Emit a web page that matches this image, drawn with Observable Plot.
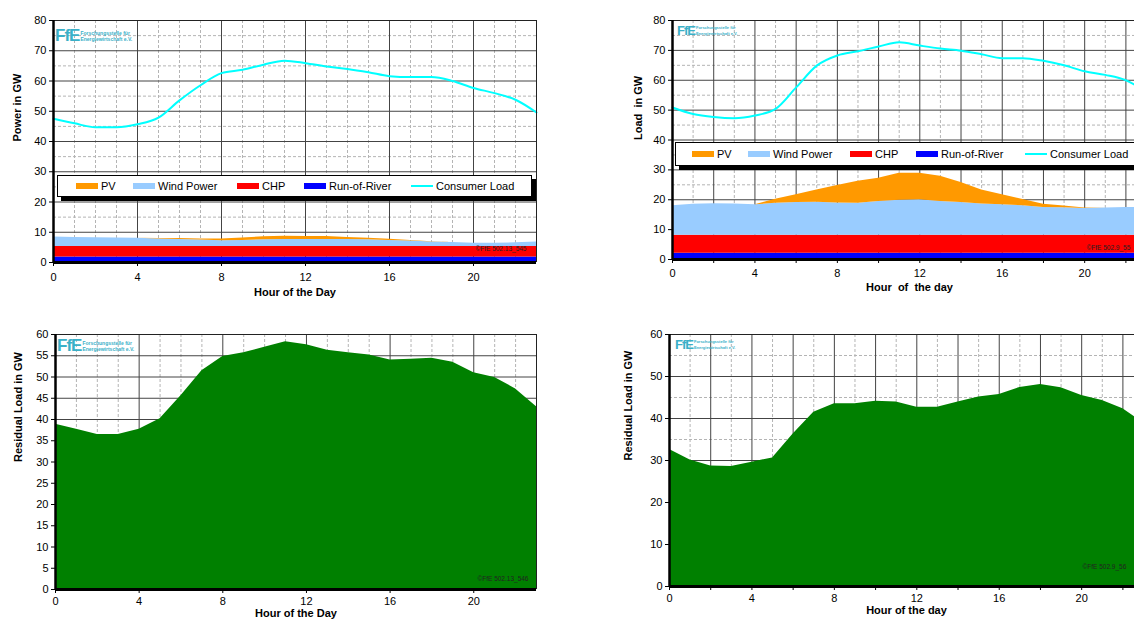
<!DOCTYPE html>
<html><head><meta charset="utf-8">
<script src="https://cdn.jsdelivr.net/npm/d3@7"></script>
<script src="https://cdn.jsdelivr.net/npm/@observablehq/plot@0.6"></script>
<style>
html,body{margin:0;padding:0;width:1134px;height:620px;overflow:hidden;background:#fff;font-family:"Liberation Sans",Arial,sans-serif;position:relative;}
.panel{position:absolute;}
.panel svg{overflow:visible;max-width:none !important;}
.panel svg text{white-space:pre;}
.legend{position:absolute;background:#fff;border:1px solid #000;box-shadow:4px 4px 0 #000;font-size:11px;color:#000;box-sizing:border-box;}
.legend .sw{position:absolute;height:6px;width:22px;}
.legend .ln{position:absolute;height:2px;width:22px;}
.legend .tx{position:absolute;line-height:12px;white-space:nowrap;}
.logo{position:absolute;color:#3ab0c8;white-space:nowrap;display:flex;align-items:center;}
.logo .big{font-weight:bold;letter-spacing:-1px;}
.logo .small{font-weight:bold;display:inline-block;margin-left:1px;}
</style>
</head><body>
<script>
// ---------- data ----------
const hours = [0,1,2,3,4,5,6,7,8,9,10,11,12,13,14,15,16,17,18,19,20,21,22,23];
const sources = ["PV","Wind Power","CHP","Run-of-River"];
const sourceColors = ["#ff9900","#99ccff","#ff0000","#0000ff"];
const stackOrder = ["Run-of-River","CHP","Wind Power","PV"];
const loadName = "Consumer Load";
const loadColor = "#00ffff";
const residualColor = "#008000";

// top-left panel (Power in GW)
const loadA = [47.5,46.0,44.7,44.7,45.7,47.9,53.6,58.6,62.6,63.7,65.4,66.7,65.9,64.8,64.0,62.9,61.6,61.3,61.3,60.0,57.7,56.0,53.8,49.6];
const rorA  = [1.8,1.8,1.8,1.8,1.8,1.8,1.8,1.8,1.8,1.8,1.8,1.8,1.8,1.8,1.8,1.8,1.8,1.8,1.8,1.8,1.8,1.8,1.8,1.8];
const chpA  = [3.5,3.5,3.5,3.5,3.5,3.5,3.5,3.5,3.5,3.5,3.5,3.5,3.5,3.5,3.5,3.5,3.5,3.5,3.5,3.5,3.5,3.5,3.5,3.5];
const windA = [3.1,3.0,2.9,2.8,2.7,2.5,2.3,2.1,1.9,2.0,2.2,2.3,2.3,2.3,2.3,2.2,2.0,1.8,1.5,1.3,1.1,1.1,1.2,1.5];
const pvA   = [0,0,0,0,0,0.1,0.3,0.4,0.6,0.8,1.0,1.1,1.0,1.0,0.7,0.5,0.4,0.2,0.1,0,0,0,0,0];

// top-right panel (Load in GW)
const loadB = [50.9,48.7,47.7,47.3,48.2,50.4,57.6,64.9,68.3,69.7,71.3,72.7,71.6,70.6,69.9,68.7,67.4,67.4,66.5,65.0,63.0,61.8,60.0,56.0];
const rorB  = [2.1,2.1,2.1,2.1,2.1,2.1,2.1,2.1,2.1,2.1,2.1,2.1,2.1,2.1,2.1,2.1,2.1,2.1,2.1,2.1,2.1,2.1,2.1,2.1];
const chpB  = [6.0,6.0,6.0,6.0,6.0,6.0,6.0,6.0,6.0,6.0,6.0,6.0,6.0,6.0,6.0,6.0,6.0,6.0,6.0,6.0,6.0,6.0,6.0,6.0];
const windB = [9.9,10.4,10.6,10.5,10.2,10.7,11.0,11.1,10.8,10.7,11.3,11.7,11.9,11.3,11.0,10.5,10.2,9.9,9.3,9.2,9.0,9.1,9.3,9.4];
const pvB   = [0,0,0,0,0,1.4,2.6,4.1,5.9,7.4,7.8,9.1,8.9,8.5,6.7,4.7,3.4,2.1,1.1,0.6,0.1,0,0,0];

// bottom panels (Residual Load in GW)
const residualC = [38.9,37.7,36.5,36.5,37.7,40.2,45.6,51.5,54.8,55.7,57.0,58.3,57.6,56.3,55.7,55.2,54.0,54.2,54.4,53.5,51.0,49.9,47.2,43.0];
const residualD = [32.6,30.1,28.7,28.6,29.6,30.6,36.3,41.5,43.5,43.5,44.1,43.9,42.7,42.7,43.9,45.1,45.7,47.4,48.1,47.3,45.5,44.3,42.3,39.0];

// ticks
const yTicks80 = [0,10,20,30,40,50,60,70,80];
const yTicks60by5 = [0,5,10,15,20,25,30,35,40,45,50,55,60];
const yTicks60by10 = [0,10,20,30,40,50,60];
const xTicksBy4 = [0,4,8,12,16,20];
const xTicksBy2 = [0,2,4,6,8,10,12,14,16,18,20,22];

// ---------- helpers ----------
function stackRows(ror, chp, wind, pv) {
  const rows = [];
  hours.forEach((h, i) => {
    rows.push({hour: h, source: "Run-of-River", value: ror[i]});
    rows.push({hour: h, source: "CHP", value: chp[i]});
    rows.push({hour: h, source: "Wind Power", value: wind[i]});
    rows.push({hour: h, source: "PV", value: pv[i]});
  });
  return rows;
}
function series(vals) { return hours.map((h, i) => ({hour: h, value: vals[i]})); }

function panel(cfg) {
  const yMajor = cfg.yTicks.filter(v => v > 0 && v < cfg.yMax);
  const chart = Plot.plot({
    width: cfg.width, height: cfg.height,
    marginLeft: cfg.ml, marginTop: cfg.mt, marginRight: cfg.mr, marginBottom: cfg.mb,
    style: {fontFamily: '"Liberation Sans", Arial, sans-serif', fontSize: "11px", color: "#000", background: "transparent", maxWidth: "none"},
    x: {domain: [0, 23]},
    y: {domain: [0, cfg.yMax]},
    color: {domain: sources, range: sourceColors},
    marks: [
      Plot.ruleX(cfg.xMinor, {stroke: "#b4b4b4", strokeDasharray: "3,2"}),
      Plot.ruleY(cfg.yMinor, {stroke: "#b4b4b4", strokeDasharray: "3,2"}),
      Plot.ruleX(cfg.xMajor, {stroke: "#444"}),
      Plot.ruleY(yMajor, {stroke: "#444"}),
      ...cfg.marks,
      Plot.ruleY([cfg.yMax], {stroke: "#222"}),
      Plot.ruleX([23], {stroke: "#222"}),
      Plot.ruleX([0], {stroke: "#000", strokeWidth: 2.5}),
      Plot.ruleY([0], {stroke: "#000", strokeWidth: 3}),
      Plot.axisY({ticks: cfg.yTicks, tickSize: 4, tickPadding: 3, label: null}),
      Plot.axisX({ticks: cfg.xTicks, tickSize: 4, tickPadding: cfg.xPad, label: null,
        tickFormat: d => (d % 4 === 0 ? String(d) : "")}),
      Plot.text([cfg.yLabel], {text: d => d, frameAnchor: "left", rotate: -90, dx: cfg.yLabDx, fontWeight: "bold", fontSize: 11}),
      Plot.text([cfg.xLabel], {text: d => d, frameAnchor: "bottom", dy: cfg.xLabDy, fontWeight: "bold", fontSize: 11}),
      Plot.text([cfg.copy], {text: d => d, frameAnchor: cfg.copyAnchor, textAnchor: cfg.copyText, dx: cfg.copyDx, dy: cfg.copyDy, fontSize: 6.5, fill: "#222"})
    ]
  });
  const div = document.createElement("div");
  div.className = "panel";
  div.style.left = cfg.left + "px";
  div.style.top = cfg.top + "px";
  div.style.width = cfg.width + "px";
  div.style.height = cfg.height + "px";
  div.appendChild(chart);
  document.body.appendChild(div);
}

function legend(left, top, width, height, offsets) {
  const box = document.createElement("div");
  box.className = "legend";
  Object.assign(box.style, {left: left + "px", top: top + "px", width: width + "px", height: height + "px"});
  const names = [...sources, loadName];
  const colors = [...sourceColors, loadColor];
  const mid = height / 2 - 1;
  names.forEach((name, i) => {
    const isLine = name === loadName;
    const sw = document.createElement("div");
    sw.className = isLine ? "ln" : "sw";
    sw.style.background = colors[i];
    sw.style.left = offsets[i] + "px";
    sw.style.top = (mid - (isLine ? 1 : 3)) + "px";
    box.appendChild(sw);
    const tx = document.createElement("div");
    tx.className = "tx";
    tx.textContent = name;
    tx.style.left = (offsets[i] + 25) + "px";
    tx.style.top = (mid - 6) + "px";
    box.appendChild(tx);
  });
  document.body.appendChild(box);
}

function logo(left, top, big, small) {
  const d = document.createElement("div");
  d.className = "logo";
  d.style.left = left + "px"; d.style.top = top + "px";
  d.innerHTML = `<span class="big" style="font-size:${big}px">FfE</span><span class="small" style="font-size:${small}px;line-height:${small + 1.5}px">Forschungsstelle für<br>Energiewirtschaft e.V.</span>`;
  document.body.appendChild(d);
}

// ---------- panels ----------
panel({
  left: 0, top: 0, width: 546, height: 305, ml: 53, mt: 20, mr: 10, mb: 43, yMax: 80,
  yTicks: yTicks80, yMinor: [5,15,25,35,45,55,65,75],
  xTicks: xTicksBy4, xMajor: [4,8,12,16,20], xMinor: [1,2,3,5,6,7,9,10,11,13,14,15,17,18,19,21,22], xPad: 7,
  yLabel: "Power in GW", yLabDx: -36, xLabel: "Hour of the Day", xLabDy: 33,
  copy: "©FfE 502.13_545", copyAnchor: "bottom-right", copyText: "end", copyDx: -10, copyDy: -12,
  marks: [
    Plot.areaY(stackRows(rorA, chpA, windA, pvA), {x: "hour", y: "value", z: "source", fill: "source", order: stackOrder}),
    Plot.lineY(series(loadA), {x: "hour", y: "value", stroke: loadColor, strokeWidth: 2, curve: "monotone-x"})
  ]
});
panel({
  left: 590, top: 0, width: 566, height: 305, ml: 82, mt: 20, mr: 10, mb: 46, yMax: 80,
  yTicks: yTicks80, yMinor: [5,15,25,35,45,55,65,75],
  xTicks: xTicksBy2, xMajor: [2,4,6,8,10,12,14,16,18,20,22], xMinor: [1,3,5,7,9,11,13,15,17,19,21], xPad: 6,
  yLabel: "Load  in GW", yLabDx: -34, xLabel: "Hour  of  the day", xLabDy: 31,
  copy: "©FfE 502.9_55", copyAnchor: "bottom-left", copyText: "start", copyDx: 414, copyDy: -10,
  marks: [
    Plot.areaY(stackRows(rorB, chpB, windB, pvB), {x: "hour", y: "value", z: "source", fill: "source", order: stackOrder}),
    Plot.lineY(series(loadB), {x: "hour", y: "value", stroke: loadColor, strokeWidth: 2, curve: "monotone-x"})
  ]
});
panel({
  left: 0, top: 320, width: 546, height: 305, ml: 55, mt: 14, mr: 10, mb: 36, yMax: 60,
  yTicks: yTicks60by5, yMinor: [],
  xTicks: xTicksBy4, xMajor: [4,8,12,16,20], xMinor: [1,2,3,5,6,7,9,10,11,13,14,15,17,18,19,21,22], xPad: 4,
  yLabel: "Residual Load in GW", yLabDx: -37, xLabel: "Hour of the Day", xLabDy: 27,
  copy: "©FfE 502.13_546", copyAnchor: "bottom-right", copyText: "end", copyDx: -8, copyDy: -9,
  marks: [
    Plot.areaY(series(residualC), {x: "hour", y: "value", fill: residualColor})
  ]
});
panel({
  left: 590, top: 320, width: 569, height: 305, ml: 79, mt: 14, mr: 16, mb: 39, yMax: 60,
  yTicks: yTicks60by10, yMinor: [5,15,25,35,45,55],
  xTicks: xTicksBy2, xMajor: [2,4,6,8,10,12,14,16,18,20,22], xMinor: [1,3,5,7,9,11,13,15,17,19,21], xPad: 4,
  yLabel: "Residual Load in GW", yLabDx: -41, xLabel: "Hour of the day", xLabDy: 27,
  copy: "©FfE 502.9_56", copyAnchor: "bottom-left", copyText: "start", copyDx: 413, copyDy: -18,
  marks: [
    Plot.areaY(series(residualD), {x: "hour", y: "value", fill: residualColor})
  ]
});

// ---------- legends ----------
legend(57, 175, 475, 22, [18, 75, 179, 246, 353]);
legend(675, 142, 480, 24, [16, 72, 174, 240, 349]);

// ---------- logos ----------
logo(55, 26, 17, 5);
logo(677, 23, 13, 4);
logo(57, 336, 17, 5);
logo(675, 337, 13, 4);
</script>
</body></html>
